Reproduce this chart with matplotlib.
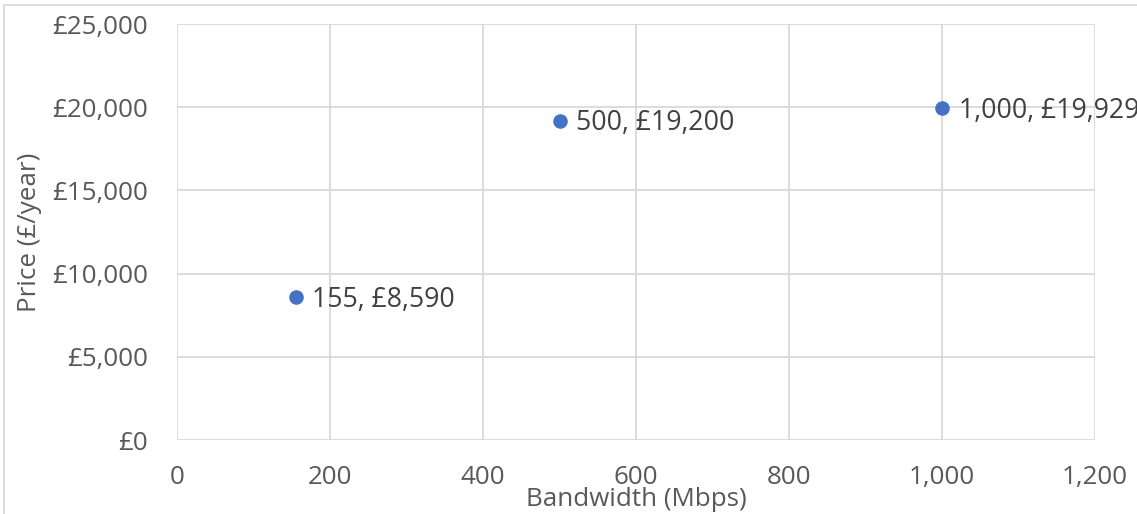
import matplotlib.pyplot as plt
from matplotlib.lines import Line2D
from matplotlib.ticker import FuncFormatter

plt.rcParams['font.family'] = ['Open Sans', 'DejaVu Sans']

bandwidth = [155, 500, 1000]
price = [8590, 19200, 19929]
x_ticks = [0, 200, 400, 600, 800, 1000, 1200]
y_ticks = [0, 5000, 10000, 15000, 20000, 25000]

W, H = 1137, 514
fig = plt.figure(figsize=(W / 100, H / 100), dpi=100)
ax = fig.add_axes([177 / W, (H - 440) / H, (1095 - 177) / W, (440 - 24) / H])

grid = '#d9d9d9'
tick_col = '#595959'

ax.scatter(bandwidth, price, s=110, color='#4472C4', zorder=3, linewidths=0)
for x, y in zip(bandwidth, price):
    ax.annotate(f'{x:,}, £{y:,}', (x, y), xytext=(12, -2), textcoords='offset points',
                ha='left', va='center', fontsize=19.2, color='#404040',
                annotation_clip=False)

ax.set_xlim(0, 1200)
ax.set_ylim(0, 25000)
ax.set_xticks(x_ticks)
ax.set_yticks(y_ticks)
ax.xaxis.set_major_formatter(FuncFormatter(lambda v, _: f'{int(v):,}'))
ax.yaxis.set_major_formatter(FuncFormatter(lambda v, _: f'£{int(v):,}'))
ax.tick_params(length=0, labelsize=18.7, colors=tick_col)
ax.tick_params(axis='y', pad=21)
ax.tick_params(axis='x', pad=18)
ax.grid(True, color=grid, linewidth=1.3)
ax.set_axisbelow(True)
for s in ax.spines.values():
    s.set_visible(False)

fig.text(636 / W, (H - 499) / H, 'Bandwidth (Mbps)', ha='center', va='center',
         fontsize=18.7, color=tick_col)
fig.text(30 / W, (H - 232) / H, 'Price (£/year)', ha='center', va='center',
         rotation=90, fontsize=18.7, color=tick_col)

# outer chart frame
fig.add_artist(Line2D([4 / W, 4 / W], [0, (H - 5) / H], color=grid, linewidth=1.3))
fig.add_artist(Line2D([4 / W, 1], [(H - 5) / H, (H - 5) / H], color=grid, linewidth=1.3))

fig.savefig('out.png', dpi=100)
